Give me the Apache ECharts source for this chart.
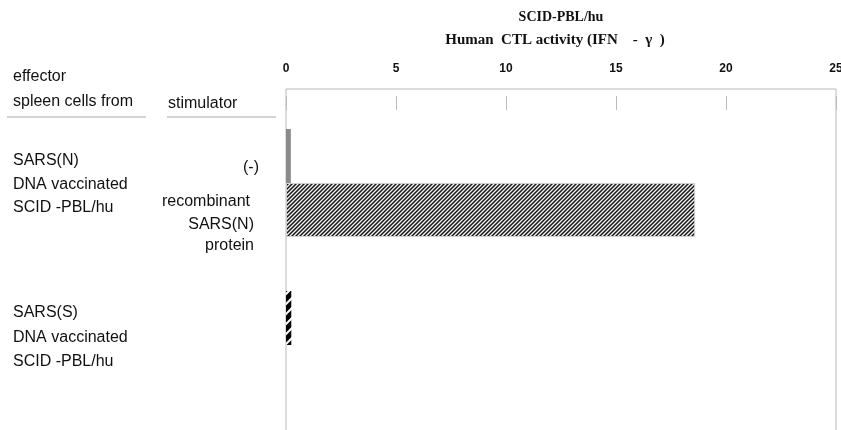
<!DOCTYPE html>
<html>
<head>
<meta charset="utf-8">
<script src="https://cdn.jsdelivr.net/npm/echarts@6/dist/echarts.min.js"></script>
<style>
  html, body { margin: 0; padding: 0; background: #fff; }
  #chart { width: 841px; height: 430px; }
</style>
</head>
<body>
<div id="chart"></div>
<script>
// data
const rowKeys = ["N (-)", "N recombinant SARS(N) protein", "gap", "S (-)", "S end"];
const ifnValues = [0.22, 18.6, null, 0.24, null];
const xTicks = [0, 5, 10, 15, 20, 25];

const titleLines = ["SCID-PBL/hu", "Human  CTL activity (IFN    -  γ  )"];
const headEffector = ["effector", "spleen cells from"];
const headStimulator = "stimulator";
const groupN = ["SARS(N)", "DNA vaccinated", "SCID -PBL/hu"];
const groupS = ["SARS(S)", "DNA vaccinated", "SCID -PBL/hu"];
const stimNeg = "(-)";
const stimProtein = ["recombinant", "SARS(N)", "protein"];

// fill patterns
function makePattern(size, bg, fg, lw) {
	const c = document.createElement("canvas");
	c.width = size;
	c.height = size;
	const ctx = c.getContext("2d");
	ctx.fillStyle = bg;
	ctx.fillRect(0, 0, size, size);
	ctx.strokeStyle = fg;
	ctx.lineWidth = lw;
	ctx.beginPath();
	ctx.moveTo(-1, 1); ctx.lineTo(1, -1);
	ctx.moveTo(0, size); ctx.lineTo(size, 0);
	ctx.moveTo(size - 1, size + 1); ctx.lineTo(size + 1, size - 1);
	ctx.stroke();
	return c;
}
const hatchDense = makePattern(4, "#f4f4f4", "#151515", 1.5);
const hatchBlack = makePattern(10, "#000", "#fff", 2);

const barStyles = [
	{ color: "#8a8a8a" },
	{ color: { image: hatchDense, repeat: "repeat" }, borderColor: "#cfcfcf", borderWidth: 1 },
	{},
	{ color: { image: hatchBlack, repeat: "repeat" } },
	{}
];

const font = "'Liberation Sans', Arial, sans-serif";
const serif = "'Liberation Serif', 'Times New Roman', serif";

function txt(x, y, text, align) {
	return {
		type: "text",
		x: x,
		y: y,
		style: {
			text: text,
			font: "16px " + font,
			fill: "#111",
			align: align || "left",
			verticalAlign: "middle"
		}
	};
}

const graphics = [
	txt(561, 17, titleLines[0], "center"),
	txt(555, 40, titleLines[1], "center"),
	txt(13, 77, headEffector[0]),
	txt(13, 102, headEffector[1]),
	txt(168, 104, headStimulator),
	{ type: "line", shape: { x1: 7, y1: 117, x2: 146, y2: 117 }, style: { stroke: "#aaa", lineWidth: 1 } },
	{ type: "line", shape: { x1: 167, y1: 117, x2: 276, y2: 117 }, style: { stroke: "#aaa", lineWidth: 1 } },
	txt(13, 161, groupN[0]),
	txt(13, 185, groupN[1]),
	txt(13, 208, groupN[2]),
	txt(259, 168, stimNeg, "right"),
	txt(250, 202, stimProtein[0], "right"),
	txt(254, 225, stimProtein[1], "right"),
	txt(254, 246, stimProtein[2], "right"),
	txt(13, 313, groupS[0]),
	txt(13, 338, groupS[1]),
	txt(13, 362, groupS[2])
];
graphics[0].style.font = "bold 14px " + serif;
graphics[1].style.font = "bold 15px " + serif;

const chart = echarts.init(document.getElementById("chart"));
chart.setOption({
	animation: false,
	backgroundColor: "#fff",
	grid: [
		{ left: 286, right: 5, top: 89, bottom: -5, outerBoundsMode: "none", show: true, borderColor: "#b8b8b8", borderWidth: 1 },
		{ left: 286, right: 5, top: 129, height: 270, outerBoundsMode: "none" }
	],
	xAxis: [
		{
			gridIndex: 0,
			type: "value",
			position: "top",
			min: xTicks[0],
			max: xTicks[xTicks.length - 1],
			interval: 5,
			axisLine: { show: true, lineStyle: { color: "#b4b4b4", width: 2 } },
			axisTick: { show: false },
			splitLine: { show: false },
			axisLabel: { margin: 14, color: "#111", fontWeight: "bold", fontSize: 12, fontFamily: font }
		},
		{
			gridIndex: 0,
			type: "value",
			position: "top",
			offset: -7,
			min: xTicks[0],
			max: xTicks[xTicks.length - 1],
			interval: 5,
			axisLine: { show: false },
			axisTick: { show: true, inside: true, length: 14, lineStyle: { color: "#bbb", width: 1 } },
			splitLine: { show: false },
			axisLabel: { show: false }
		},
		{
			gridIndex: 1,
			type: "value",
			min: xTicks[0],
			max: xTicks[xTicks.length - 1],
			show: false
		}
	],
	yAxis: [
		{ gridIndex: 0, type: "value", show: false },
		{ gridIndex: 1, type: "category", data: rowKeys, inverse: true, show: false }
	],
	series: [
		{
			type: "bar",
			xAxisIndex: 2,
			yAxisIndex: 1,
			barWidth: "100%",
			data: ifnValues.map((v, i) => ({ value: v, itemStyle: barStyles[i] }))
		}
	],
	graphic: graphics
});
</script>
</body>
</html>
